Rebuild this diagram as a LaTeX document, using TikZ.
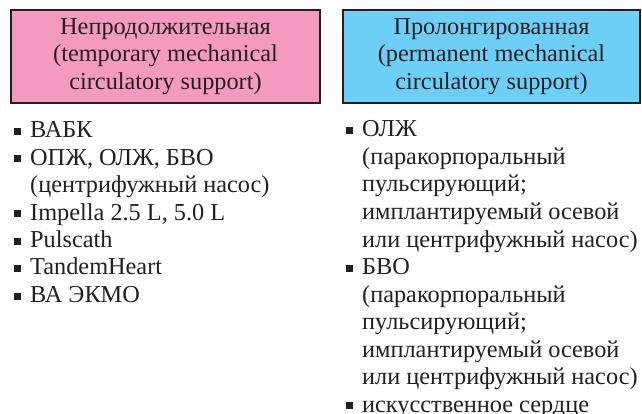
\documentclass[tikz,border=0pt]{standalone}
\usepackage{fontspec}
\setmainfont{Liberation Serif}
\usepackage{tikz}
\usetikzlibrary{positioning}

\definecolor{inkblack}{RGB}{35,31,32}
\definecolor{headpink}{RGB}{244,154,193}
\definecolor{headblue}{RGB}{109,207,246}

\tikzset{
    headbox/.style={draw=inkblack, line width=1.4pt, minimum width=309pt,
        minimum height=93pt, inner sep=0pt, align=center, text=inkblack,
        font=\fontsize{24.3}{27.4}\selectfont},
    itemtext/.style={anchor=base west, inner sep=0pt, text=inkblack,
        font=\fontsize{24.3}{27.4}\selectfont},
    itembullet/.style={fill=inkblack, minimum size=7pt, inner sep=0pt}
}

\begin{document}
\begin{tikzpicture}[x=1pt, y=-1pt]
        \useasboundingbox (0,0) rectangle (642,414);

        % Headers --  --  --  --  --  --  --  --  --  --  --  --  --  --
        \node[headbox, fill=headpink] (shortterm) at (165.5,56.5)
            {Непродолжительная\\(temporary mechanical\\circulatory support)};
        \node[headbox, fill=headblue, minimum width=297pt] (longterm) at (491.5,56.5)
            {Пролонгированная\\(permanent mechanical\\circulatory support)};
        %  --  --  --  --  --  --  --  --  --  --  --  --  --  --  --  --

        % Left list --  --  --  --  --  --  --  --  --  --  --  --  --  -
        \node[itembullet] (sb1) at (17,131.7) {};
        \node[itemtext] (s1) at (30,138) {ВАБК};
        \node[itembullet] (sb2) at (17,159) {};
        \node[itemtext] (s2) at (30,165.3) {ОПЖ, ОЛЖ, БВО};
        \node[itemtext] (s2b) at (30,192.7) {(центрифужный насос)};
        \node[itembullet] (sb3) at (17,213.8) {};
        \node[itemtext] (s3) at (30,220.1) {Impella 2.5 L, 5.0 L};
        \node[itembullet] (sb4) at (17,241.2) {};
        \node[itemtext] (s4) at (30,247.5) {Pulscath};
        \node[itembullet] (sb5) at (17,268.6) {};
        \node[itemtext] (s5) at (30,274.9) {TandemHeart};
        \node[itembullet] (sb6) at (17,296) {};
        \node[itemtext] (s6) at (30,302.3) {ВА ЭКМО};
        %  --  --  --  --  --  --  --  --  --  --  --  --  --  --  --  --

        % Right list --  --  --  --  --  --  --  --  --  --  --  --  --  
        \node[itembullet] (lb1) at (349,130.7) {};
        \node[itemtext] (l1) at (362,137) {ОЛЖ};
        \node[itemtext] (l1b) at (362,164.5) {(паракорпоральный};
        \node[itemtext] (l1c) at (362,192) {пульсирующий;};
        \node[itemtext] (l1d) at (362,219.5) {имплантируемый осевой};
        \node[itemtext] (l1e) at (362,247) {или центрифужный насос)};
        \node[itembullet] (lb2) at (349,268.2) {};
        \node[itemtext] (l2) at (362,274.5) {БВО};
        \node[itemtext] (l2b) at (362,302) {(паракорпоральный};
        \node[itemtext] (l2c) at (362,329.5) {пульсирующий;};
        \node[itemtext] (l2d) at (362,357) {имплантируемый осевой};
        \node[itemtext] (l2e) at (362,384.5) {или центрифужный насос)};
        \node[itembullet] (lb3) at (349,405.7) {};
        \node[itemtext] (l3) at (362,412) {искусственное сердце};
        %  --  --  --  --  --  --  --  --  --  --  --  --  --  --  --  --
\end{tikzpicture}
\end{document}
